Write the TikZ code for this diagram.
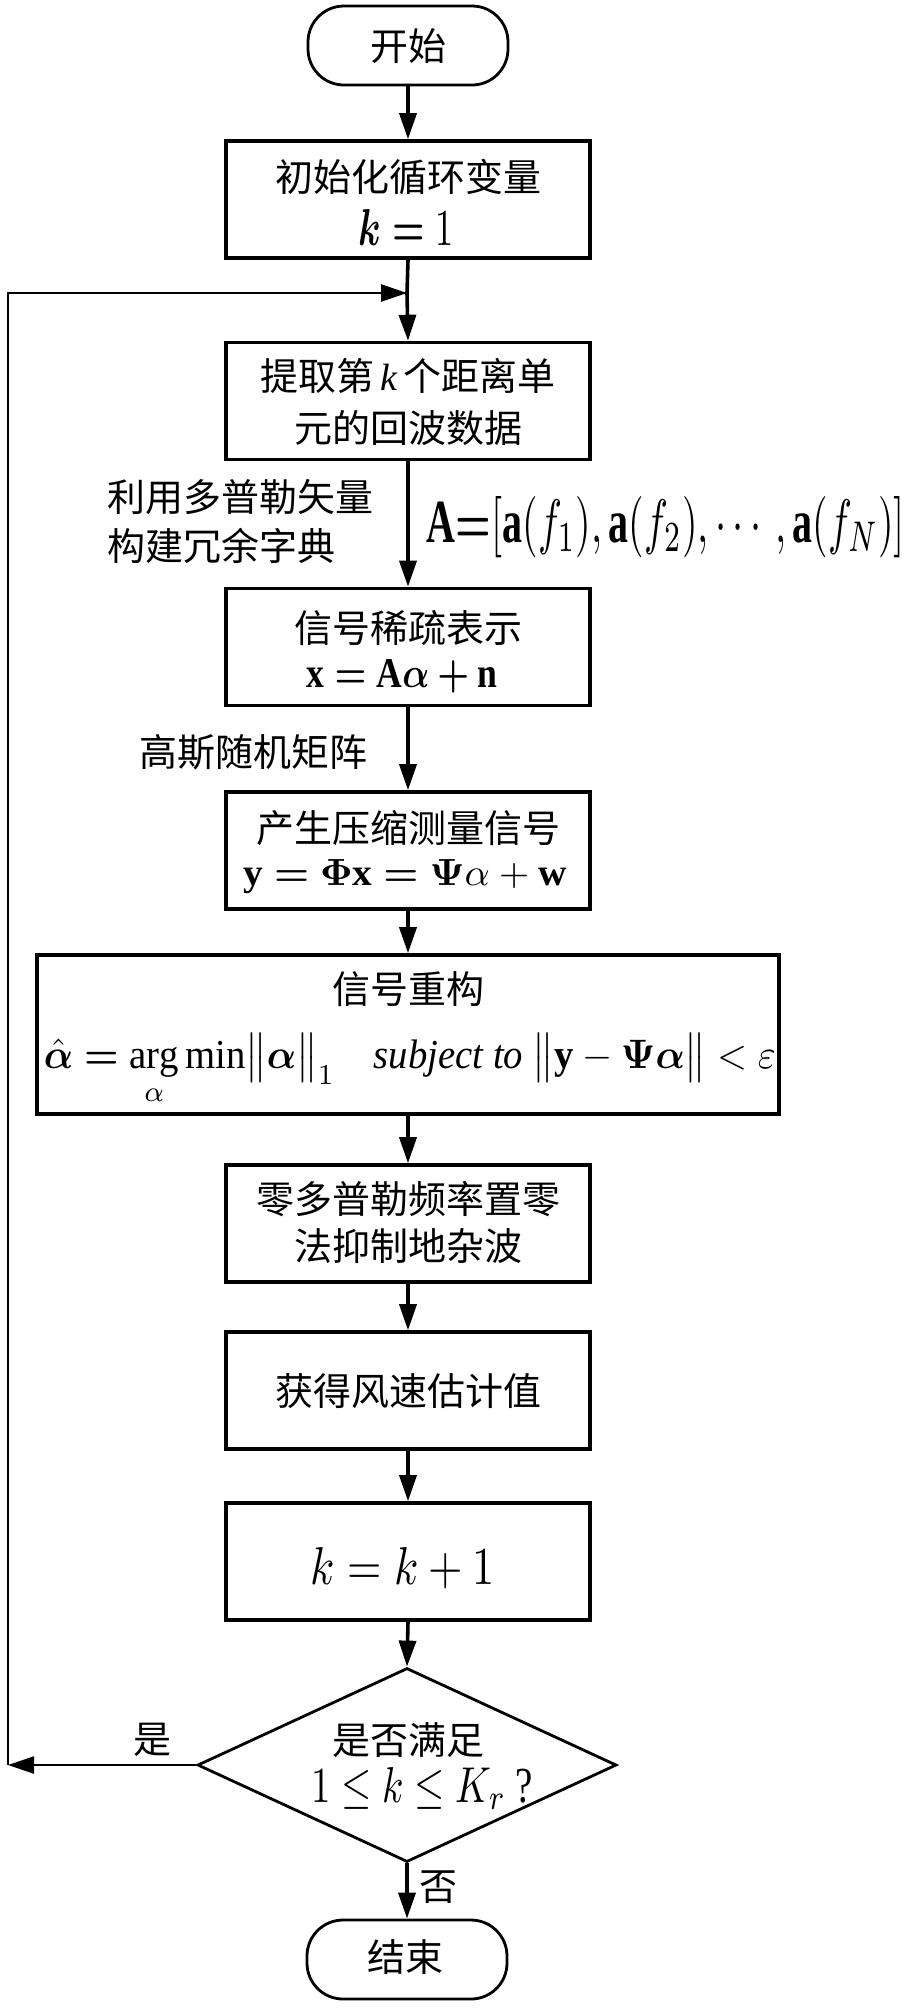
\documentclass[tikz,border=0pt]{standalone}
\usepackage{amsmath}
\usepackage{graphicx}
\usepackage{fontspec}
\setmainfont{Liberation Serif}
\newfontfamily\cjk{Noto Sans CJK SC}
\usetikzlibrary{arrows.meta,shapes.geometric}
\newcommand\zh{\cjk\fontsize{38}{47}\selectfont}
\begin{document}
\begin{tikzpicture}[x=1pt,y=-1pt,
 box/.style={draw,line width=3.6pt,minimum width=364pt,minimum height=117pt,inner sep=0pt},
 term/.style={draw,line width=2.8pt,rounded corners=36pt,minimum width=200pt,minimum height=79pt,inner sep=0pt},
 dia/.style={draw,diamond,line width=2.8pt,minimum width=419pt,minimum height=194pt,inner sep=0pt},
 arr/.style={line width=3.6pt,-{Triangle[length=26pt,width=17pt]}},
 ln/.style={line width=3.6pt},
 thinarr/.style={line width=2.4pt,-{Triangle[length=26pt,width=17pt]}},
 zt/.style={inner sep=0pt,font=\zh},
 zl/.style={inner sep=0pt,font=\zh,anchor=west},
 fm/.style={inner sep=0pt,anchor=base}]
\path[use as bounding box,fill=white] (0,0) rectangle (912,2008);

\node[term] (start) at (408,45.5) {};
\node[zt] (tstart) at (408,46) {开始};

\node[box] (b1) at (408,199.5) {};
\node[zt] (t1a) at (408,177) {初始化循环变量};
\node[fm] (t1b) at (406,245) {\resizebox{95pt}{36pt}{$\boldsymbol{k=}1$}};

\node[box] (b2) at (408,401) {};
\node[zt] (t2a) at (408,376) {提取第\,{\rmfamily\itshape k}\,个距离单};
\node[zt] (t2b) at (408,428) {元的回波数据};

\node[zl] (l1a) at (107,497) {利用多普勒矢量};
\node[zl] (l1b) at (107,546) {构建冗余字典};
\node[fm] (fa) at (666,542) {\resizebox{478pt}{46pt}{$\mathbf{A}{\boldsymbol{=}}[\mathbf{a}(f_1),\mathbf{a}(f_2),\cdots,\mathbf{a}(f_N)]$}};

\node[box] (b3) at (408,647) {};
\node[zt] (t3a) at (408,628) {信号稀疏表示};
\node[fm] (t3b) at (402,687) {\resizebox{190pt}{28pt}{$\mathbf{x}\boldsymbol{=}\mathbf{A}\boldsymbol{\alpha}\boldsymbol{+}\mathbf{n}$}};

\node[zl] (l2) at (139,752) {高斯随机矩阵};

\node[box] (b4) at (408,850.5) {};
\node[zt] (t4a) at (408,828) {产生压缩测量信号};
\node[fm] (t4b) at (405,885) {\resizebox{323pt}{26pt}{$\mathbf{y}\boldsymbol{=}\boldsymbol{\Phi}\mathbf{x}\boldsymbol{=}\boldsymbol{\Psi}\alpha+\mathbf{w}$}};

\node[box,minimum width=742pt,minimum height=159pt] (b5) at (408,1034.5) {};
\node[zt] (t5a) at (408,989) {信号重构};
\node[fm] (t5b) at (410,1068) {\resizebox{732pt}{35pt}{$\hat{\boldsymbol{\alpha}}\boldsymbol{=}\mathop{\mathrm{arg}}\limits_{\alpha}\min\bigl\|\boldsymbol{\alpha}\bigr\|_1\quad\textit{subject to}\ \bigl\|\mathbf{y}-\boldsymbol{\Psi}\boldsymbol{\alpha}\bigr\|<\varepsilon$}};

\node[box] (b6) at (408,1223.5) {};
\node[zt] (t6a) at (408,1199) {零多普勒频率置零};
\node[zt] (t6b) at (408,1246) {法抑制地杂波};

\node[box] (b7) at (408,1390.5) {};
\node[zt] (t7) at (408,1391) {获得风速估计值};

\node[box] (b8) at (408,1561.5) {};
\node[fm] (t8) at (403,1584) {\resizebox{184pt}{37pt}{$k=k+1$}};

\node[dia] (dec) at (407,1765) {};
\node[zt] (t9a) at (408,1740) {是否满足};
\node[fm] (t9b) at (422,1802) {\resizebox{222pt}{35pt}{$1\leq k\leq K_r$\ ?}};

\node[term] (end) at (407,1959.5) {};
\node[zt] (tend) at (405,1957) {结束};

\node[zt] (yes) at (152,1740) {是};
\node[zt] (no) at (438,1887) {否};

\coordinate (join) at (407,293);
\coordinate (lb) at (8,1765);
\coordinate (lt) at (8,293);

\draw[arr] (start.south) -- (b1.north);
\draw[ln] (b1.south) -- (join);
\draw[arr] (join) -- (b2.north);
\draw[arr] (b2.south) -- (b3.north);
\draw[arr] (b3.south) -- (b4.north);
\draw[arr] (b4.south) -- (b5.north);
\draw[arr] (b5.south) -- (b6.north);
\draw[arr] (b6.south) -- (b7.north);
\draw[arr] (b7.south) -- (b8.north);
\draw[arr] (b8.south) -- (dec.north);
\draw[arr] (dec.south) -- (end.north);
\draw[thinarr] (dec.west) -- (lb);
\draw[thinarr,line join=miter] (lb) -- (lt) -- (join);
\end{tikzpicture}
\end{document}
